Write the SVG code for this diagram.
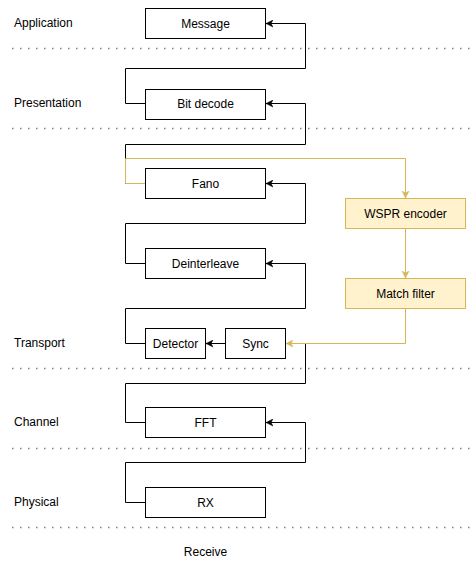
<svg xmlns="http://www.w3.org/2000/svg" width="472" height="565" viewBox="0 0 472 565">
<style>
text{font-family:"Liberation Sans",Arial,sans-serif;font-size:12px;fill:#000}
.n rect{fill:#fff;stroke:#000;stroke-width:1}
.y rect{fill:#fff2cc;stroke:#d6b656;stroke-width:1}
.n text,.y text,.c{text-anchor:middle}
.sep{stroke:#808080;stroke-width:1.5;stroke-dasharray:1.5 6.5;fill:none}
.e{fill:none;stroke:#000;stroke-width:1}
.g{fill:none;stroke:#d6b656;stroke-width:1}
</style>
<defs>
<marker id="ab" markerUnits="userSpaceOnUse" markerWidth="8" markerHeight="8" refX="7" refY="4" orient="auto"><path d="M0,0.5 L7,4 L0,7.5 L2,4 z" fill="#000" stroke="#000" stroke-width="0.5"/></marker>
<marker id="ag" markerUnits="userSpaceOnUse" markerWidth="8" markerHeight="8" refX="7" refY="4" orient="auto"><path d="M0,0.5 L7,4 L0,7.5 L2,4 z" fill="#d6b656" stroke="#d6b656" stroke-width="0.5"/></marker>
</defs>
<g id="separators">
<line class="sep" x1="12" y1="48.5" x2="472" y2="48.5"/>
<line class="sep" x1="12" y1="128.5" x2="472" y2="128.5"/>
<line class="sep" x1="12" y1="368.5" x2="472" y2="368.5"/>
<line class="sep" x1="12" y1="448.5" x2="472" y2="448.5"/>
<line class="sep" x1="12" y1="527.5" x2="472" y2="527.5"/>
</g>
<g id="layer-labels">
<text x="14" y="27">Application</text>
<text x="14" y="107">Presentation</text>
<text x="14" y="347">Transport</text>
<text x="14" y="426">Channel</text>
<text x="14" y="506">Physical</text>
<text class="c" x="205.5" y="556">Receive</text>
</g>
<g id="connectors">
<path class="e" d="M145.5,103.5 H125.5 V68.5 H305.5 V23.5 H266" marker-end="url(#ab)"/>
<path class="e" d="M145.5,183.5 H125.5 V144.5 H305.5 V103.5 H266" marker-end="url(#ab)"/>
<path class="e" d="M145.5,263.5 H125.5 V223.5 H305.5 V183.5 H266" marker-end="url(#ab)"/>
<path class="e" d="M145.5,343.5 H125.5 V308.5 H305.5 V263.5 H266" marker-end="url(#ab)"/>
<path class="e" d="M225.5,343.5 H206" marker-end="url(#ab)"/>
<path class="e" d="M145.5,422.5 H125.5 V383.5 H305.5 V343.5 H286"/>
<path class="e" d="M145.5,502.5 H125.5 V462.5 H305.5 V422.5 H266" marker-end="url(#ab)"/>
<path class="g" d="M145.5,183.5 H125.5 V158.5 H405.5 V198" marker-end="url(#ag)"/>
<path class="g" d="M405.5,228.5 V278" marker-end="url(#ag)"/>
<path class="g" d="M405.5,308.5 V343.5 H286" marker-end="url(#ag)"/>
</g>
<g id="message" class="n"><rect x="145.5" y="8.5" width="120" height="30"/><text x="205.5" y="27.5">Message</text></g>
<g id="bit-decode" class="n"><rect x="145.5" y="89.5" width="120" height="30"/><text x="205.5" y="108">Bit decode</text></g>
<g id="fano" class="n"><rect x="145.5" y="168.5" width="120" height="30"/><text x="205.5" y="187.5">Fano</text></g>
<g id="deinterleave" class="n"><rect x="145.5" y="248.5" width="120" height="30"/><text x="205.5" y="267.5">Deinterleave</text></g>
<g id="detector" class="n"><rect x="145.5" y="328.5" width="60" height="30"/><text x="175.5" y="347.5">Detector</text></g>
<g id="sync" class="n"><rect x="225.5" y="328.5" width="60" height="30"/><text x="255.5" y="347.5">Sync</text></g>
<g id="fft" class="n"><rect x="145.5" y="407.5" width="120" height="30"/><text x="205.5" y="426.5">FFT</text></g>
<g id="rx" class="n"><rect x="145.5" y="487.5" width="120" height="30"/><text x="205.5" y="506.5">RX</text></g>
<g id="wspr-encoder" class="y"><rect x="345.5" y="198.5" width="120" height="30"/><text x="405.5" y="217.5">WSPR encoder</text></g>
<g id="match-filter" class="y"><rect x="345.5" y="278.5" width="120" height="30"/><text x="405.5" y="297.5">Match filter</text></g>
</svg>
